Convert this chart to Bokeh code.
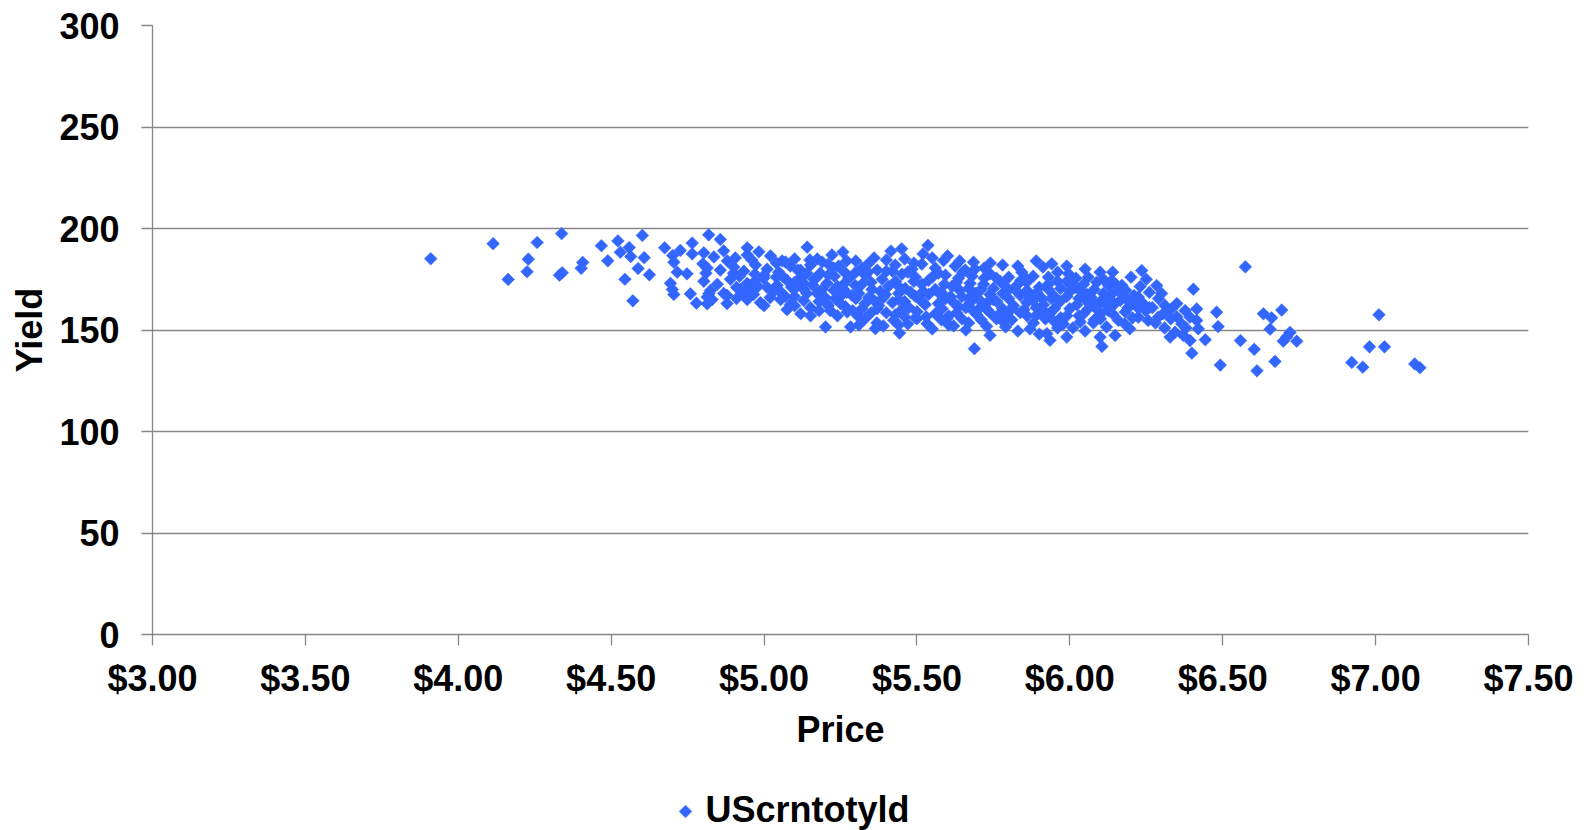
import numpy as np
from bokeh.plotting import figure
from bokeh.layouts import column
from bokeh.core.properties import value
from bokeh.models import Range1d, FixedTicker, NumeralTickFormatter, ColumnDataSource
from bokeh.embed import file_html
from bokeh.resources import INLINE

# ---------------- data ----------------
price_a = [3.91, 4.114, 4.163, 4.229, 4.225, 4.258, 4.338, 4.331, 4.340, 4.407, 4.402, 4.468, 4.522,
           4.559, 4.530, 4.564, 4.489, 4.602, 4.608, 4.588, 4.625, 4.545, 4.571, 4.675, 4.765, 4.726,
           4.701, 4.705, 4.765, 4.716, 4.748, 4.694, 4.705, 4.700, 4.759, 4.779, 4.814, 4.819, 4.800,
           4.810, 4.820]
yield_a = [185.1, 192.5, 174.9, 184.9, 178.7, 193.1, 197.5, 177.0, 178.2, 183.3, 180.4, 191.5, 193.9,
           190.6, 188.3, 186.2, 184.1, 196.6, 185.6, 180.3, 177.2, 175.0, 164.4, 190.5, 192.8, 189.2,
           186.7, 183.4, 187.5, 178.5, 177.7, 173.0, 167.5, 170.0, 167.8, 163.2, 162.9, 196.9, 182.6,
           178.0, 168.0]

price_b = [4.857, 4.803, 4.836, 4.868, 4.906, 4.945, 4.983, 5.021, 5.059, 5.141, 5.174, 5.222, 4.945,
           4.814, 4.857, 4.901, 4.934, 4.972, 5.010, 5.048, 5.086, 5.119, 5.152, 5.184, 5.228,
           4.803, 4.847, 4.890, 4.945, 4.999, 5.043, 5.075, 5.108, 5.163, 5.206,
           4.825, 4.868, 4.923, 4.966, 5.032, 5.065, 5.130, 5.174, 5.228,
           4.830, 4.879, 4.945, 4.988, 5.054, 5.086, 5.130, 5.206,
           5.075, 5.152, 5.217, 5.152, 5.201, 4.814, 5.272, 4.879,
           5.258, 5.415, 5.536, 5.283, 5.443, 5.364, 5.424, 5.500, 5.533, 5.598,
           4.88, 4.92, 4.96, 5.00, 5.04, 5.10, 5.12, 5.19, 5.23, 4.95, 5.02, 5.09, 5.10, 5.16, 5.20, 5.24]
yield_b = [194.6, 188.0, 186.0, 189.0, 185.5, 187.0, 188.5, 186.5, 184.0, 190.8, 185.0, 187.0, 190.5,
           180.5, 179.5, 181.0, 179.0, 182.0, 180.0, 178.5, 181.5, 179.5, 182.0, 178.0, 180.5,
           174.0, 172.5, 175.0, 173.0, 175.5, 172.0, 174.5, 171.5, 175.0, 173.0,
           169.5, 168.0, 170.0, 167.5, 169.0, 167.0, 170.0, 168.0, 169.5,
           165.0, 163.0, 165.0, 163.5, 165.0, 162.5, 164.5, 163.0,
           160.0, 161.0, 159.5, 157.0, 151.5, 166.2, 158.9, 167.1,
           188.4, 188.9, 191.7, 151.5, 148.5, 150.7, 154.8, 155.6, 153.1, 155.6,
           184.0, 176.5, 184.5, 177.0, 183.0, 185.0, 176.0, 183.5, 176.5, 170.5, 166.0, 171.0, 166.5,
           172.0, 166.0, 171.5]

price_c = [5.587, 5.685, 5.244, 5.320, 5.429, 5.484, 5.516, 5.560, 5.625, 5.658,
           5.277, 5.331, 5.386, 5.451, 5.495, 5.538, 5.593, 5.636, 5.680,
           5.255, 5.298, 5.353, 5.407, 5.462, 5.516, 5.560, 5.615, 5.669,
           5.233, 5.288, 5.342, 5.397, 5.440, 5.495, 5.538, 5.593, 5.647,
           5.266, 5.320, 5.375, 5.473, 5.527, 5.582, 5.636, 5.680,
           5.309, 5.429, 5.495, 5.604, 5.647, 5.369, 5.440, 5.604, 5.669,
           5.30, 5.36, 5.40, 5.46, 5.35, 5.43, 5.48, 5.58, 5.62, 5.42, 5.33, 5.50, 5.56, 5.40, 5.26,
           5.60, 5.52, 5.45]
yield_c = [184.2, 183.4, 181.5, 180.5, 182.0, 180.0, 182.5, 180.5, 181.5, 179.5,
           175.5, 177.0, 175.0, 177.5, 176.0, 174.5, 177.0, 175.5, 176.5,
           170.5, 172.0, 170.0, 171.5, 170.5, 172.5, 170.0, 171.5, 170.5,
           165.5, 167.0, 166.0, 167.5, 165.0, 166.5, 167.5, 165.5, 166.5,
           161.5, 160.5, 162.0, 161.0, 162.5, 160.5, 161.5, 160.0,
           156.5, 157.5, 156.0, 157.0, 155.5, 153.5, 152.5, 152.5, 153.5,
           184.0, 185.5, 179.0, 185.0, 173.5, 174.0, 168.5, 168.5, 163.5, 163.5, 163.0, 159.0, 158.0,
           158.5, 179.0, 186.5, 187.5, 190.0]

price_d = [5.941, 5.912, 5.996, 6.099, 5.739, 5.843,
           5.674, 5.718, 5.772, 5.827, 5.859, 5.930, 5.990, 6.045, 6.088, 6.126,
           5.696, 5.739, 5.794, 5.838, 5.892, 5.947, 6.001, 6.056, 6.110,
           5.674, 5.718, 5.761, 5.816, 5.859, 5.914, 5.968, 6.023, 6.077, 6.121,
           5.696, 5.739, 5.794, 5.838, 5.892, 5.936, 5.990, 6.045, 6.099,
           5.783, 5.881, 5.947, 5.979, 6.034, 6.077,
           5.728, 5.739, 5.870, 5.925, 5.990, 6.099, 6.105, 5.688, 5.935, 6.148, 6.235, 6.284,
           5.72, 5.78, 5.80, 5.88, 5.96, 6.02, 6.06, 5.75, 5.82, 5.90, 5.97, 6.03, 6.08, 5.78, 5.85,
           5.95, 6.00, 6.06, 5.76, 5.92, 6.10, 6.01, 5.83, 5.70, 5.87, 6.13, 5.73]
yield_d = [182.6, 181.0, 177.7, 178.5, 177.7, 178.5,
           173.0, 172.5, 174.0, 172.0, 173.5, 172.5, 174.0, 172.5, 173.5, 172.0,
           168.0, 167.5, 169.0, 167.0, 168.5, 167.0, 169.0, 167.5, 168.0,
           163.5, 162.5, 164.0, 162.0, 163.5, 162.5, 164.0, 162.5, 163.5, 162.0,
           157.5, 158.5, 157.0, 158.5, 157.5, 158.5, 157.0, 158.0, 157.5,
           154.0, 153.5, 154.5, 153.0, 154.0, 153.5,
           151.8, 147.4, 150.5, 148.2, 146.5, 146.5, 141.9, 140.8, 144.9, 147.3, 179.3, 171.9,
           180.5, 182.0, 176.0, 176.5, 178.5, 175.5, 176.0, 170.5, 170.0, 171.0, 170.5, 165.5, 170.0,
           160.5, 160.0, 160.5, 160.5, 160.5, 155.5, 155.5, 155.5, 151.0, 149.5, 165.5, 166.0, 165.0,
           160.0]

price_e = [6.137, 6.183, 6.404, 6.230, 6.224, 6.311, 6.377, 6.415, 6.480, 6.485, 6.366, 6.420, 6.344,
           6.328, 6.393, 6.443, 6.399, 6.196, 6.256, 6.289, 6.224, 6.224, 6.159, 6.126, 6.147,
           6.181, 6.205, 6.247, 6.270, 6.305, 6.330, 6.138, 6.165, 6.198, 6.230, 6.290, 6.260,
           6.574, 6.393, 6.415, 6.371, 6.492, 6.558, 6.603, 6.612, 6.633, 6.660, 6.693, 6.655, 6.671,
           6.720, 6.709, 6.698, 6.742, 6.922, 6.958, 6.980, 7.011, 7.029, 7.128, 7.145]
yield_e = [174.4, 169.5, 170.1, 171.4, 166.2, 162.1, 159.6, 160.4, 158.8, 151.7, 153.0, 150.6, 148.9,
           146.5, 144.8, 145.2, 138.6, 150.6, 154.7, 156.3, 156.3, 160.7, 154.7, 159.6, 162.9,
           158.9, 156.0, 159.7, 161.0, 158.0, 155.5, 167.9, 164.6, 162.1, 163.8, 165.5, 168.5,
           181.1, 156.3, 154.7, 147.3, 132.7, 144.8, 140.5, 129.9, 158.0, 156.0, 159.8, 150.4, 134.5,
           148.8, 146.5, 144.5, 144.5, 134.0, 131.7, 141.7, 157.5, 141.7, 133.3, 131.4]

price_f = [5.07, 5.15, 5.21, 5.27, 5.34, 5.40, 5.49, 5.55, 5.64, 5.74, 5.83, 5.89, 5.99, 6.05, 6.14, 6.20,
           4.97, 5.06, 5.14, 5.21, 5.30, 5.37, 5.47, 5.57, 5.65, 5.69, 5.76, 5.86, 5.93, 6.00, 6.11, 6.17,
           6.25,
           4.91, 4.98, 5.05, 5.13, 5.19, 5.27, 5.32, 5.38, 5.44, 5.52, 5.59, 5.64, 5.71, 5.79, 5.86, 5.93,
           6.02, 6.07, 6.16, 6.21, 6.30, 6.35,
           4.91, 5.00, 5.10, 5.18, 5.25, 5.30, 5.36, 5.46, 5.51, 5.57, 5.67, 5.74, 5.80, 5.88, 5.94, 5.99,
           6.05, 6.10, 6.18, 6.24, 6.33,
           5.12, 5.24, 5.29, 5.35, 5.45, 5.53, 5.58, 5.63, 5.70, 5.77, 5.81, 5.86, 5.91, 5.97, 6.03, 6.08,
           6.14, 6.19, 6.26, 6.35, 6.38,
           5.33, 5.39, 5.47, 5.55, 5.66, 5.71, 5.79, 5.90, 5.96, 6.05, 6.12, 6.18, 6.28, 6.31]
yield_f = [183.5, 184.5, 182.5, 184.0, 182.5, 184.5, 183.0, 185.5, 184.0, 183.0, 181.5, 184.0, 181.5,
           180.0, 178.5, 176.0,
           177.5, 176.5, 178.0, 177.0, 178.5, 179.5, 178.5, 178.0, 178.5, 180.0, 175.5, 175.0, 176.0,
           173.0, 175.0, 172.0, 175.0,
           171.0, 171.5, 169.5, 173.0, 170.0, 168.5, 172.5, 169.0, 168.0, 169.0, 172.5, 169.5, 170.0,
           171.5, 169.5, 170.0, 171.0, 166.0, 169.0, 167.0, 168.0, 163.0,
           165.5, 162.0, 162.0, 164.0, 163.0, 165.5, 164.5, 164.0, 165.0, 163.0, 165.5, 165.0, 165.5,
           164.5, 165.5, 166.5, 165.0, 164.0, 166.0, 163.0, 160.0,
           158.0, 157.0, 159.5, 158.5, 160.0, 156.5, 155.0, 158.5, 160.0, 158.0, 155.0, 157.0, 160.0,
           156.0, 157.0, 155.0, 158.0, 161.0, 161.0, 156.5, 151.0,
           155.5, 152.0, 153.0, 150.5, 150.0, 155.0, 151.5, 148.0, 151.0, 149.5, 151.5, 153.0, 153.5,
           151.0]

price_g = [4.90, 4.93, 4.97, 5.01, 5.04, 5.07, 5.11, 5.14, 5.17, 5.21, 5.25, 5.28, 5.31, 5.34, 5.37,
           5.39, 5.42, 5.44, 5.47, 5.49, 5.52, 5.55, 5.57, 5.61, 5.63, 5.66, 5.69, 5.72, 5.75, 5.78,
           5.81, 5.84, 5.89, 5.91, 5.96, 6.04, 6.09, 6.15, 6.20, 5.18, 5.31, 5.46, 5.62, 5.26, 5.10]
yield_g = [178.0, 168.0, 174.0, 171.0, 176.0, 166.5, 179.5, 168.0, 175.5, 162.0, 166.5, 176.0, 168.0,
           178.5, 160.5, 166.0, 179.0, 171.5, 161.5, 174.0, 163.5, 176.0, 168.5, 166.5, 173.5, 161.0,
           168.0, 175.5, 165.0, 168.0, 160.5, 174.5, 161.0, 165.5, 174.0, 168.5, 160.0, 172.5, 163.5,
           159.5, 152.5, 156.5, 152.0, 172.5, 173.5]

price = price_a + price_b + price_c + price_d + price_e + price_f + price_g
yields = yield_a + yield_b + yield_c + yield_d + yield_e + yield_f + yield_g

x_ticks = [3.0, 3.5, 4.0, 4.5, 5.0, 5.5, 6.0, 6.5, 7.0, 7.5]
y_ticks = [0, 50, 100, 150, 200, 250, 300]
series_name = "UScrntotyld"

# ---------------- figure ----------------
FONT = "Liberation Sans"
AX = "#868686"
BLUE = "#3366FF"
MARKER = dict(marker="square", size=9, angle=np.pi / 4,
              fill_color=BLUE, line_color=BLUE, line_width=0.5)

p = figure(width=1592, height=780, output_backend="svg", toolbar_location=None,
           x_range=Range1d(3.0, 7.5), y_range=Range1d(0, 300),
           min_border_left=152, min_border_right=64, min_border_top=25, min_border_bottom=146)
p.outline_line_color = None
p.background_fill_color = "white"
p.border_fill_color = "white"

src = ColumnDataSource(dict(x=price, y=yields))
r = p.scatter("x", "y", source=src, **MARKER)

for ax in (p.xaxis[0], p.yaxis[0]):
    ax.axis_line_color = AX
    ax.axis_line_width = 1.3
    ax.major_tick_line_color = AX
    ax.major_tick_line_width = 1.3
    ax.major_tick_out = 11
    ax.major_tick_in = 0
    ax.minor_tick_line_color = None
    ax.major_label_text_font = FONT
    ax.major_label_text_font_style = "bold"
    ax.major_label_text_font_size = "36px"
    ax.major_label_text_color = "black"
    ax.axis_label_text_font = FONT
    ax.axis_label_text_font_style = "bold"
    ax.axis_label_text_font_size = "36px"
    ax.axis_label_text_color = "black"

p.xaxis.ticker = FixedTicker(ticks=x_ticks)
p.xaxis.formatter = NumeralTickFormatter(format="$0.00")
p.xaxis.axis_label = "Price"
p.xaxis.major_label_standoff = 12
p.xaxis.axis_label_standoff = 7

p.yaxis.ticker = FixedTicker(ticks=y_ticks)
p.yaxis.axis_label = "Yield"
p.yaxis.major_label_standoff = 22
p.yaxis.axis_label_standoff = 6

p.xgrid.grid_line_color = None
p.ygrid.ticker = FixedTicker(ticks=y_ticks)
p.ygrid.grid_line_color = AX
p.ygrid.grid_line_width = 1.3

# ---------------- legend strip below the chart (screen-pixel coordinates) ----------------
lf = figure(width=1592, height=50, output_backend="svg", toolbar_location=None,
            x_axis_type=None, y_axis_type=None, x_range=Range1d(0, 1376), y_range=Range1d(0, 50),
            min_border=0)
lf.outline_line_color = None
lf.grid.visible = False
lf.background_fill_color = "white"
lf.border_fill_color = "white"
lf.scatter(x=[533], y=[19], **MARKER)
lf.text(x=[553], y=[21], text=[series_name], text_font=value(FONT), text_font_style="bold",
        text_font_size="36px", text_color="black", text_align="left", text_baseline="middle")

layout = column(p, lf, spacing=0)
open("out.html", "w").write(file_html(layout, INLINE))
